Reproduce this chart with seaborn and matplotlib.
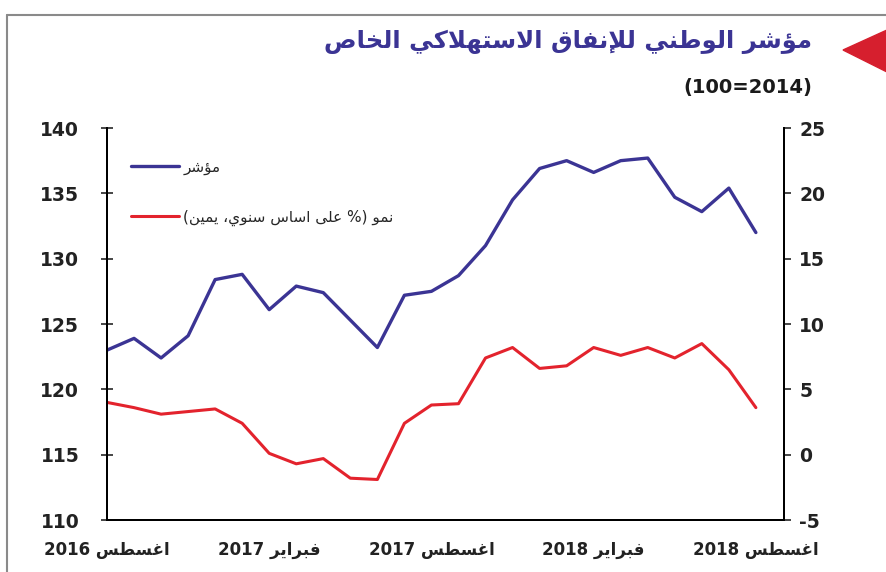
import re
import pandas as pd
import matplotlib
matplotlib.use('Agg')
import matplotlib.pyplot as plt
from matplotlib.lines import Line2D
from matplotlib.patches import Polygon
import seaborn as sns

# ---------------------------------------------------------
# Datos: ago-2016 .. ago-2018, mensual
# ---------------------------------------------------------
month_idx = list(range(25))
index_values = [123.0, 123.9, 122.4, 124.1, 128.4, 128.8, 126.1, 127.9, 127.4, 125.3,
                123.2, 127.2, 127.5, 128.7, 131.0, 134.5, 136.9, 137.5, 136.6, 137.5,
                137.7, 134.7, 133.6, 135.4, 132.0]
growth_values = [4.0, 3.6, 3.1, 3.3, 3.5, 2.4, 0.1, -0.7, -0.3, -1.8,
                 -1.9, 2.4, 3.8, 3.9, 7.4, 8.2, 6.6, 6.8, 8.2, 7.6,
                 8.2, 7.4, 8.5, 6.5, 3.6]
tick_pos = [0, 6, 12, 18, 24]
tick_labels = ['اغسطس 2016', 'فبراير 2017', 'اغسطس 2017', 'فبراير 2018', 'اغسطس 2018']
left_ticks = [110, 115, 120, 125, 130, 135, 140]
right_ticks = [-5, 0, 5, 10, 15, 20, 25]

title = 'مؤشر الوطني للإنفاق الاستهلاكي الخاص'
subtitle = '(100=2014)'
label_index = 'مؤشر'
label_growth = 'نمو (% على اساس سنوي، يمين)'

BLUE = '#3b3494'
RED = '#e3232d'

# ---------------------------------------------------------
# Mini "shaper" árabe (matplotlib no une las letras)
# ---------------------------------------------------------
FORMS = {  # aislada, final, inicial, medial
    'ا': ('\uFE8D', '\uFE8E', None, None),
    'أ': ('\uFE83', '\uFE84', None, None),
    'إ': ('\uFE87', '\uFE88', None, None),
    'ؤ': ('\uFE85', '\uFE86', None, None),
    'ر': ('\uFEAD', '\uFEAE', None, None),
    'و': ('\uFEED', '\uFEEE', None, None),
    'ى': ('\uFEEF', '\uFEF0', None, None),
    'ب': ('\uFE8F', '\uFE90', '\uFE91', '\uFE92'),
    'ت': ('\uFE95', '\uFE96', '\uFE97', '\uFE98'),
    'خ': ('\uFEA5', '\uFEA6', '\uFEA7', '\uFEA8'),
    'س': ('\uFEB1', '\uFEB2', '\uFEB3', '\uFEB4'),
    'ش': ('\uFEB5', '\uFEB6', '\uFEB7', '\uFEB8'),
    'ص': ('\uFEB9', '\uFEBA', '\uFEBB', '\uFEBC'),
    'ط': ('\uFEC1', '\uFEC2', '\uFEC3', '\uFEC4'),
    'ع': ('\uFEC9', '\uFECA', '\uFECB', '\uFECC'),
    'غ': ('\uFECD', '\uFECE', '\uFECF', '\uFED0'),
    'ف': ('\uFED1', '\uFED2', '\uFED3', '\uFED4'),
    'ق': ('\uFED5', '\uFED6', '\uFED7', '\uFED8'),
    'ك': ('\uFED9', '\uFEDA', '\uFEDB', '\uFEDC'),
    'ل': ('\uFEDD', '\uFEDE', '\uFEDF', '\uFEE0'),
    'م': ('\uFEE1', '\uFEE2', '\uFEE3', '\uFEE4'),
    'ن': ('\uFEE5', '\uFEE6', '\uFEE7', '\uFEE8'),
    'ه': ('\uFEE9', '\uFEEA', '\uFEEB', '\uFEEC'),
    'ي': ('\uFEF1', '\uFEF2', '\uFEF3', '\uFEF4'),
}
LAM_ALEF = {'ا': ('\uFEFB', '\uFEFC'), 'أ': ('\uFEF7', '\uFEF8'), 'إ': ('\uFEF9', '\uFEFA')}
MIRROR = {'(': ')', ')': '('}


def shape_ar(text):
    seq = []
    i = 0
    while i < len(text):
        c = text[i]
        if c == 'ل' and i + 1 < len(text) and text[i + 1] in LAM_ALEF:
            seq.append(('LA', text[i + 1]))
            i += 2
        else:
            seq.append((c, None))
            i += 1

    def joins_next(item):
        return item[0] in FORMS and FORMS[item[0]][2] is not None

    def is_letter(item):
        return item[0] == 'LA' or item[0] in FORMS

    res = []
    for k, item in enumerate(seq):
        c, a = item
        prev_j = k > 0 and joins_next(seq[k - 1]) and is_letter(item)
        next_j = k + 1 < len(seq) and joins_next(item) and is_letter(seq[k + 1])
        if c == 'LA':
            res.append(LAM_ALEF[a][1] if prev_j else LAM_ALEF[a][0])
        elif c in FORMS:
            iso, fin, ini, med = FORMS[c]
            if prev_j and next_j:
                res.append(med)
            elif prev_j:
                res.append(fin)
            elif next_j:
                res.append(ini)
            else:
                res.append(iso)
        else:
            res.append(c)
    return ''.join(res)


def ar(text):
    s = shape_ar(text)[::-1]
    s = ''.join(MIRROR.get(c, c) for c in s)
    return re.sub(r'[0-9A-Za-z=.]+', lambda m: m.group(0)[::-1], s)


# ---------------------------------------------------------
# Gráfico
# ---------------------------------------------------------
sns.set_style('white')
plt.rcParams['font.family'] = ['DejaVu Sans']
plt.rcParams['axes.unicode_minus'] = False

df = pd.DataFrame({'mes': month_idx, 'indice': index_values, 'crecimiento': growth_values})

fig = plt.figure(figsize=(8.87, 5.72), dpi=100)
ax = fig.add_axes([107 / 887, 52 / 572, 677 / 887, 392 / 572])
ax2 = ax.twinx()

sns.lineplot(data=df, x='mes', y='indice', ax=ax, color=BLUE, linewidth=2.4, label=ar(label_index), legend=False)
sns.lineplot(data=df, x='mes', y='crecimiento', ax=ax2, color=RED, linewidth=2.2, label=ar(label_growth), legend=False)

ax.set_xlim(0, 25.04)
ax.set_ylim(110, 140)
ax2.set_ylim(-5, 25)
ax.set_xticks(tick_pos)
ax.set_xticklabels([ar(t) for t in tick_labels])
ax.set_yticks(left_ticks)
ax2.set_yticks(right_ticks)
ax.set_xlabel('')
ax.set_ylabel('')
ax2.set_ylabel('')

for a in (ax, ax2):
    a.spines['top'].set_visible(False)
    for side in ('left', 'right', 'bottom'):
        a.spines[side].set_color('black')
        a.spines[side].set_linewidth(1.4)

ax.tick_params(axis='y', direction='inout', length=8, width=1.2, labelsize=13.5, pad=16)
ax.tick_params(axis='x', direction='out', length=5, width=1.2, labelsize=12, pad=10)
ax2.tick_params(axis='y', direction='out', length=5, width=1.2, labelsize=13.5, pad=6)
for lab in ax.get_yticklabels() + ax.get_xticklabels() + ax2.get_yticklabels():
    lab.set_fontweight('bold')
    lab.set_color('#222222')

# Leyenda
h1, l1 = ax.get_legend_handles_labels()
h2, l2 = ax2.get_legend_handles_labels()
ax.legend(h1 + h2, l1 + l2, loc='upper left', bbox_to_anchor=(0.036, 0.92), frameon=False,
          fontsize=11, handlelength=3.1, handletextpad=0.3, labelspacing=2.3,
          borderaxespad=0, borderpad=0)

# Títulos
fig.text(812 / 887, 1 - 42 / 572, ar(title), ha='right', va='center',
         color=BLUE, fontsize=17.5, fontweight='bold')
fig.text(812 / 887, 1 - 88 / 572, subtitle, ha='right', va='center',
         color='#1a1a1a', fontsize=14, fontweight='bold')

# Marco y triángulo
fig.add_artist(Line2D([7 / 887, 1], [1 - 15 / 572, 1 - 15 / 572], color='#8a8a8a', lw=1.5))
fig.add_artist(Line2D([7 / 887, 7 / 887], [0, 1 - 15 / 572], color='#8a8a8a', lw=1.5))
fig.add_artist(Polygon([[843 / 887, 1 - 50 / 572], [1, 1 - 30 / 572], [1, 1 - 72 / 572]],
                       closed=True, color='#d61f2e', transform=fig.transFigure))

fig.savefig('out.png', dpi=100)
